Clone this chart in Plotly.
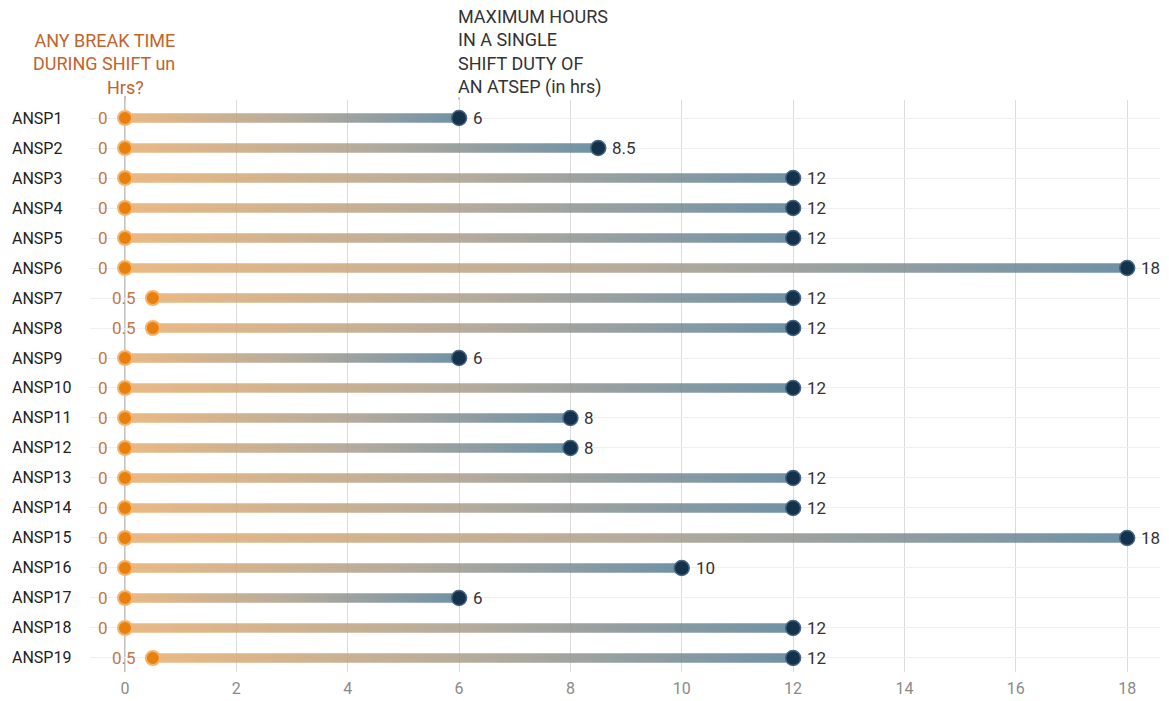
import plotly.graph_objects as go

categories = ["ANSP1", "ANSP2", "ANSP3", "ANSP4", "ANSP5", "ANSP6", "ANSP7", "ANSP8",
              "ANSP9", "ANSP10", "ANSP11", "ANSP12", "ANSP13", "ANSP14", "ANSP15",
              "ANSP16", "ANSP17", "ANSP18", "ANSP19"]
break_hours = [0, 0, 0, 0, 0, 0, 0.5, 0.5, 0, 0, 0, 0, 0, 0, 0, 0, 0, 0, 0.5]
max_hours = [6, 8.5, 12, 12, 12, 18, 12, 12, 6, 12, 8, 8, 12, 12, 18, 10, 6, 12, 12]
x_ticks = [0, 2, 4, 6, 8, 10, 12, 14, 16, 18]

break_title = "ANY BREAK TIME<br>DURING SHIFT un"
break_title_end = "Hrs?"
max_title = "MAXIMUM HOURS<br>IN A SINGLE<br>SHIFT DUTY OF<br>AN ATSEP (in hrs)"

FONT = "Roboto"
ORANGE_TXT = "#c2642c"
rows = list(range(len(categories)))
half = 0.155

L, R, T, B = 90, 9, 100, 29
W, H = 1169, 701
pw = W - L - R
ph = H - T - B


def py(px):
    """pixel-from-top -> paper y"""
    return (H - px - B) / ph


fig = go.Figure()

# gradient bars
for i, (s, e) in enumerate(zip(break_hours, max_hours)):
    fig.add_trace(go.Scatter(
        x=[s, e, e, s, s],
        y=[i - half, i - half, i + half, i + half, i - half],
        mode="lines", fill="toself", line=dict(width=0),
        fillgradient=dict(type="horizontal",
                          colorscale=[[0, "rgba(230,172,108,0.84)"],
                                      [0.5, "rgba(168,156,138,0.84)"],
                                      [1, "rgba(88,128,152,0.86)"]]),
        hoverinfo="skip", showlegend=False))

# start markers
fig.add_trace(go.Scatter(
    x=break_hours, y=rows, mode="markers",
    marker=dict(size=14, color="#e8800e", line=dict(color="#f6b46c", width=2)),
    showlegend=False, cliponaxis=False))

# end markers
fig.add_trace(go.Scatter(
    x=max_hours, y=rows, mode="markers",
    marker=dict(size=15, color="#15324d", line=dict(color="#456682", width=1.5)),
    showlegend=False, cliponaxis=False))

# value labels
for i, (s, e) in enumerate(zip(break_hours, max_hours)):
    fig.add_annotation(x=s, y=i, xref="x", yref="y", text="%g" % s, showarrow=False,
                       xanchor="right", xshift=-15,
                       font=dict(family=FONT, size=17, color="#c0774a"))
    fig.add_annotation(x=e, y=i, xref="x", yref="y", text="%g" % e, showarrow=False,
                       xanchor="left", xshift=12,
                       font=dict(family=FONT, size=17, color="#333333"))

# row labels
for i, c in enumerate(categories):
    fig.add_annotation(x=(10 - L) / pw, xref="paper", y=i, yref="y", text=c,
                       showarrow=False, xanchor="left",
                       font=dict(family=FONT, size=16, color="#222222"))

# header texts
fig.add_annotation(x=(177 - L) / pw, xref="paper", y=py(52), yref="paper",
                   text=break_title, showarrow=False,
                   xanchor="right", yanchor="middle", align="right",
                   font=dict(family=FONT, size=18, color=ORANGE_TXT))
fig.add_annotation(x=0, xref="x", y=py(88), yref="paper",
                   text=break_title_end, showarrow=False, xanchor="center",
                   yanchor="middle", font=dict(family=FONT, size=18, color=ORANGE_TXT))
fig.add_annotation(x=6, xref="x", y=py(52), yref="paper",
                   text=max_title, showarrow=False, xanchor="left", yanchor="middle",
                   align="left", xshift=-3,
                   font=dict(family=FONT, size=18, color="#333333"))

# leader lines
fig.add_shape(type="line", x0=0, x1=0, xref="x", y0=0, y1=py(96),
              yref="paper", line=dict(color="#9a9a9a", width=1.2), layer="below")
fig.add_shape(type="line", x0=6, x1=6, xref="x", y0=1, y1=py(97),
              yref="paper", line=dict(color="#9a9a9a", width=1))

fig.update_xaxes(range=[-35 / 55.67, 18.59], tickvals=x_ticks, showgrid=True,
                 gridcolor="#dcdcdc", gridwidth=1, zeroline=False, showline=False,
                 tickfont=dict(family=FONT, size=16, color="#8a8a8a"), automargin=False,
                 ticks="", ticklabelstandoff=5)
fig.update_yaxes(range=[18.467, -0.6], tickvals=rows, showticklabels=False,
                 showgrid=True, gridcolor="#efefef", zeroline=False, showline=False,
                 automargin=False)

fig.update_layout(width=W, height=H, margin=dict(l=L, r=R, t=T, b=B),
                  plot_bgcolor="white", paper_bgcolor="white",
                  font=dict(family=FONT), showlegend=False)

fig.write_html("out.html")
